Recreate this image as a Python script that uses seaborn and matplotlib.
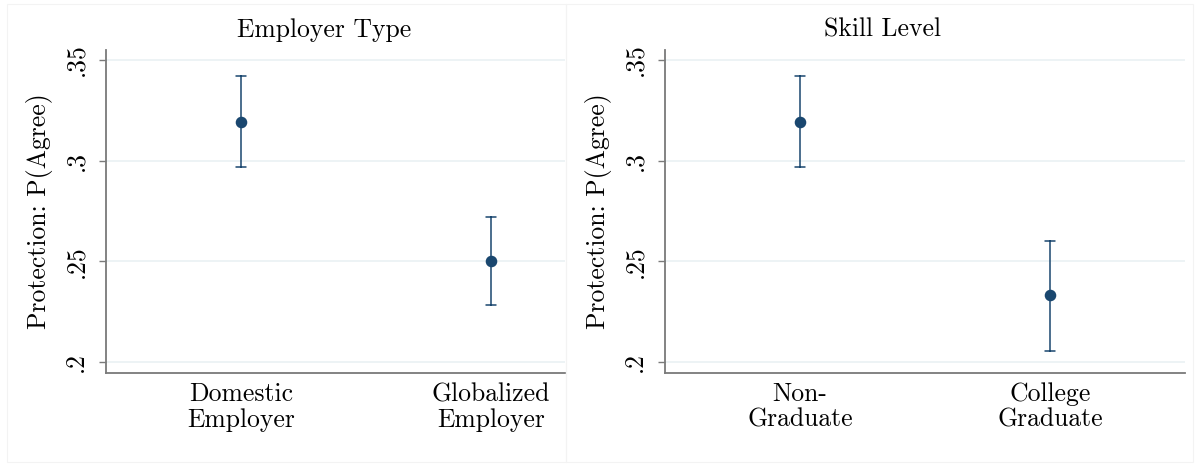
import numpy as np
import pandas as pd
import seaborn as sns
import matplotlib.pyplot as plt
from matplotlib.patches import Rectangle

# Данные: оценка и 95% ДИ (нижняя, верхняя граница)
employer_labels = ["Domestic\nEmployer", "Globalized\nEmployer"]
employer_est = [0.3193, 0.2500]
employer_lo = [0.2970, 0.2282]
employer_hi = [0.3421, 0.2718]

skill_labels = ["Non-\nGraduate", "College\nGraduate"]
skill_est = [0.3193, 0.2332]
skill_lo = [0.2970, 0.2054]
skill_hi = [0.3421, 0.2599]

panel_titles = ["Employer Type", "Skill Level"]
y_label = "Protection: P(Agree)"
ytick_values = [0.20, 0.25, 0.30, 0.35]
ytick_labels = [".2", ".25", ".3", ".35"]

navy = "#1a476f"
grid_color = "#eaf1f3"
spine_color = "#7a7a7a"

sns.set_theme(style="white")
plt.rcParams["font.family"] = ["cmr10", "DejaVu Serif"]
plt.rcParams["axes.formatter.use_mathtext"] = True
plt.rcParams["mathtext.fontset"] = "cm"
plt.rcParams["text.color"] = "black"
plt.rcParams["axes.labelcolor"] = "black"
plt.rcParams["xtick.color"] = "black"
plt.rcParams["ytick.color"] = "black"


def long_table(labels, est, lo, hi):
    # три строки на категорию: медиана = оценка, min/max = границы ДИ
    rows = []
    for lab, e, l, h in zip(labels, est, lo, hi):
        for v in (l, e, h):
            rows.append({"group": lab, "value": v})
    return pd.DataFrame(rows)


fig = plt.figure(figsize=(12.01, 4.66), dpi=100)
W, H = 1201, 466

# рамки панелей (как в Stata graph combine)
for x0, x1 in [(7, 566), (566, 1193)]:
    fig.add_artist(Rectangle((x0 / W, 4 / H), (x1 - x0) / W, 458 / H,
                             transform=fig.transFigure, fill=False,
                             edgecolor="#f3f3f3", linewidth=0.8))

panels = [
    (employer_labels, employer_est, employer_lo, employer_hi, 106, 565, (-0.54, 1.296), 324.5),
    (skill_labels, skill_est, skill_lo, skill_hi, 665, 1185, (-0.54, 1.54), 883),
]

fs = 18.5
for i, (labels, est, lo, hi, px0, px1, xlim, title_x) in enumerate(panels):
    ax = fig.add_axes([px0 / W, (H - 373) / H, (px1 - px0) / W, 323 / H])
    df = long_table(labels, est, lo, hi)
    sns.pointplot(data=df, x="group", y="value", order=labels,
                  estimator="median", errorbar=("pi", 100),
                  color=navy, linestyle="none", markers="o",
                  markersize=6.3, capsize=0.04,
                  err_kws={"linewidth": 1.1}, ax=ax)
    ax.set_xlim(*xlim)
    ax.set_ylim(0.19455, 0.35495)
    ax.set_yticks(ytick_values)
    ax.set_yticklabels(ytick_labels, rotation=90, va="center")
    ax.yaxis.grid(True, color=grid_color, linewidth=1.2)
    ax.set_axisbelow(True)
    for s in ["top", "right"]:
        ax.spines[s].set_visible(False)
    for s in ["left", "bottom"]:
        ax.spines[s].set_color(spine_color)
        ax.spines[s].set_linewidth(1.3)
    ax.tick_params(axis="y", left=True, length=5, width=1, color=spine_color,
                   labelsize=fs, pad=8)
    ax.tick_params(axis="x", bottom=False, labelsize=fs, pad=1)
    for t in ax.get_xticklabels():
        t.set_linespacing(1.08)
    ax.set_xlabel("")
    ax.set_ylabel(y_label, fontsize=fs, labelpad=8)
    ax.set_title(panel_titles[i], fontsize=fs, pad=0,
                 x=(title_x - px0) / (px1 - px0), y=1 + 20 / 323, va="center")

fig.savefig("out.png", dpi=100, facecolor="white")
